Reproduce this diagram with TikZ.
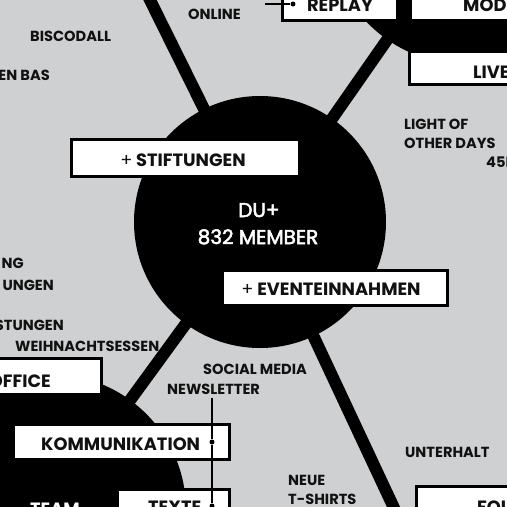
\documentclass[tikz,border=0pt]{standalone}
\usepackage{fontspec}
\setmainfont{Poppins}
\newfontfamily\hubfont{Poppins}[FakeBold=2.5]
\definecolor{bg}{HTML}{CFD0D2}
\definecolor{ink}{HTML}{111111}
\begin{document}
\begin{tikzpicture}[x=1pt,y=-1pt,
  lbl/.style={font=\fontsize{14.6}{16}\selectfont\bfseries, text=ink, inner sep=0, anchor=base west},
  lble/.style={lbl, anchor=base east},
  boxlbl/.style={font=\fontsize{17.8}{19}\selectfont\bfseries, text=ink, inner sep=0, anchor=base},
  satlbl/.style={font=\fontsize{17.8}{19}\selectfont\bfseries, text=ink, inner sep=0, anchor=base west},
  hubtxt/.style={font=\hubfont\fontsize{20}{22}\selectfont, text=white, inner sep=0, anchor=base},
  box/.style={draw=black, line width=3pt, fill=white, rectangle, inner sep=0},
  blob/.style={circle, fill=black, inner sep=0},
  spoke/.style={line width=12pt, black},
  thin/.style={line width=1.2pt, black},
  dot/.style={circle, fill=black, inner sep=0, minimum size=5pt}]
\useasboundingbox (0,0) rectangle (507,507);
\fill[bg] (0,0) rectangle (507,507);
% satellites and hub
\coordinate (ul) at (95,-111);
\coordinate (br) at (409,540);
\node[blob, minimum size=272pt] (tr) at (465,-72) {};
\node[blob, minimum size=272pt] (bl) at (50,510) {};
\node[blob, minimum size=252pt] (hub) at (260,222) {};
\draw[spoke] (hub.center) -- (ul);
\draw[spoke] (hub.center) -- (tr.center);
\draw[spoke] (hub.center) -- (bl.center);
\draw[spoke] (hub.center) -- (br);
% hub text
\node[hubtxt] (du) at (259,217) {DU+};
\node[hubtxt] (mem) at (258,244) {832 MEMBER};
% boxes
\node[box, minimum width=115pt, minimum height=39pt] (replaybox) at (340,1) {};
\node[box, minimum width=118pt, minimum height=39pt] (modbox) at (469.5,1) {};
\node[box, minimum width=119pt, minimum height=33pt] (livebox) at (469,68) {};
\node[box, minimum width=228pt, minimum height=37pt] (stiftbox) at (185.5,158) {};
\node[box, minimum width=225pt, minimum height=35pt] (eventbox) at (335,288) {};
\node[box, minimum width=120pt, minimum height=36pt] (officebox) at (41.5,376.5) {};
\node[box, minimum width=216pt, minimum height=35pt] (kommbox) at (121.5,442) {};
\node[box, minimum width=112pt, minimum height=39pt] (textebox) at (173.5,509) {};
\node[box, minimum width=112pt, minimum height=42pt] (folbox) at (472.5,507.5) {};
% box labels
\node[boxlbl] (replay) at (340,11) {REPLAY};
\node[satlbl] (mod) at (463,11) {MOD};
\node[satlbl] (live) at (473,78) {LIVE};
\node[boxlbl] (stift) at (183,166) {{\mdseries +} STIFTUNGEN};
\node[boxlbl] (event) at (331,295) {{\mdseries +} EVENTEINNAHMEN};
\node[satlbl, anchor=base east] (office) at (51,387) {OFFICE};
\node[satlbl] (komm) at (41,450) {KOMMUNIKATION};
\node[satlbl] (texte) at (148,513) {TEXTE};
\node[satlbl] (fol) at (477,513) {FOL};
\node[satlbl, text=white] (team) at (30,515) {TEAM};
% free labels
\node[lbl] (online) at (188,19) {ONLINE};
\node[lbl] (bisco) at (30,41) {BISCODALL};
\node[lble] (enbas) at (50,80) {EN BAS};
\node[lbl] (light) at (404,129) {LIGHT OF};
\node[lbl] (other) at (404,148) {OTHER DAYS};
\node[lbl] (rpm) at (486,167) {45R};
\node[lble] (ng) at (24,268) {NG};
\node[lble] (ungen) at (54,290) {UNGEN};
\node[lble] (stungen) at (64,330) {STUNGEN};
\node[lbl] (weih) at (15,351) {WEIHNACHTSESSEN};
\node[lbl] (social) at (203,374) {SOCIAL MEDIA};
\node[lbl] (news) at (167,394) {NEWSLETTER};
\node[lbl] (unter) at (405,457) {UNTERHALT};
\node[lbl] (neue) at (288,485) {NEUE};
\node[lbl] (tshirt) at (288,504) {T-SHIRTS};
% thin connectors with dots
\node[dot] (rdot) at (293,4) {};
\coordinate (onl) at (265,4);
\draw[thin] (onl) -- (rdot);
\node[dot] (kdot) at (212,442) {};
\node[dot] (tdot) at (212,506) {};
\coordinate (nl) at (212,398);
\coordinate (nbot) at (212,512);
\draw[thin] (nl) -- (kdot) -- (tdot) -- (nbot);
\end{tikzpicture}
\end{document}
